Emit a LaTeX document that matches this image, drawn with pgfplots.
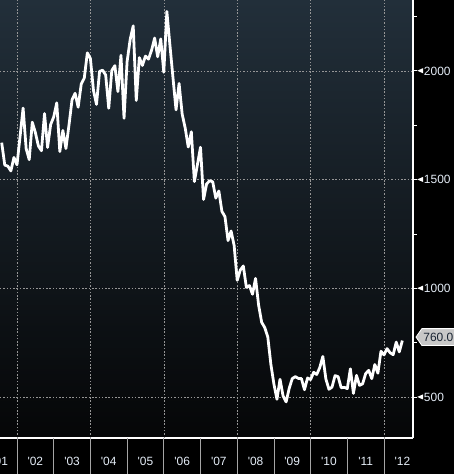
\documentclass[border=0pt]{standalone}
\usepackage{fontspec}
\setmainfont{Liberation Sans}
\newfontfamily\lab{Liberation Sans}
\usepackage{pgfplots}
\pgfplotsset{compat=1.18}
\usepackage{pgfplotstable}
\usetikzlibrary{shapes.symbols}
\definecolor{bgtop}{RGB}{34,47,58}
\definecolor{bgbot}{RGB}{5,6,7}
\definecolor{lblc}{RGB}{228,236,246}
\definecolor{gridc}{RGB}{150,150,150}
\definecolor{tickg}{RGB}{165,165,165}
\definecolor{callfill}{RGB}{200,200,200}
\definecolor{calltext}{RGB}{25,35,50}
\newcommand{\labfont}{\lab\fontsize{12}{13}\selectfont}

\pgfplotstableread{
year month value
2001 7 1670
2001 8 1567
2001 9 1562
2001 10 1540
2001 11 1602
2001 12 1568
2002 1 1698
2002 2 1829
2002 3 1642
2002 4 1592
2002 5 1764
2002 6 1717
2002 7 1655
2002 8 1633
2002 9 1804
2002 10 1648
2002 11 1753
2002 12 1788
2003 1 1853
2003 2 1629
2003 3 1726
2003 4 1643
2003 5 1751
2003 6 1867
2003 7 1897
2003 8 1833
2003 9 1939
2003 10 1967
2003 11 2083
2003 12 2057
2004 1 1911
2004 2 1846
2004 3 1998
2004 4 2003
2004 5 1981
2004 6 1828
2004 7 2002
2004 8 2024
2004 9 1905
2004 10 2072
2004 11 1782
2004 12 2042
2005 1 2144
2005 2 2207
2005 3 1864
2005 4 2061
2005 5 2025
2005 6 2068
2005 7 2054
2005 8 2095
2005 9 2151
2005 10 2065
2005 11 2147
2005 12 1994
2006 1 2273
2006 2 2119
2006 3 1969
2006 4 1821
2006 5 1942
2006 6 1802
2006 7 1737
2006 8 1650
2006 9 1720
2006 10 1491
2006 11 1570
2006 12 1649
2007 1 1409
2007 2 1480
2007 3 1495
2007 4 1490
2007 5 1415
2007 6 1448
2007 7 1354
2007 8 1330
2007 9 1220
2007 10 1264
2007 11 1197
2007 12 1037
2008 1 1084
2008 2 1103
2008 3 1005
2008 4 1013
2008 5 973
2008 6 1046
2008 7 923
2008 8 844
2008 9 820
2008 10 777
2008 11 652
2008 12 560
2009 1 490
2009 2 582
2009 3 505
2009 4 478
2009 5 540
2009 6 585
2009 7 594
2009 8 586
2009 9 585
2009 10 534
2009 11 588
2009 12 581
2010 1 614
2010 2 604
2010 3 636
2010 4 687
2010 5 583
2010 6 536
2010 7 546
2010 8 599
2010 9 594
2010 10 543
2010 11 545
2010 12 539
2011 1 630
2011 2 517
2011 3 600
2011 4 554
2011 5 561
2011 6 608
2011 7 623
2011 8 585
2011 9 650
2011 10 610
2011 11 711
2011 12 694
2012 1 723
2012 2 704
2012 3 695
2012 4 753
2012 5 708
2012 6 760
}\starts

\begin{document}
\begin{tikzpicture}
\fill[black] (0,0) rectangle (454bp,474bp);
\begin{axis}[
  at={(0bp,36bp)}, anchor=south west,
  width=413bp, height=438bp, scale only axis,
  xmin=2001.537, xmax=2012.79, ymin=312, ymax=2326,
  axis background/.style={top color=bgtop, bottom color=bgbot},
  axis x line*=bottom, axis y line*=right,
  axis line style={white, line width=1.2pt},
  tick align=outside,
  major tick length=4bp, minor tick length=4bp,
  tick style={white, line width=0.9pt},
  every tick label/.append style={font=\labfont},
  tick label style={font=\labfont, lblc},
  xtick={2001.54,2002.5,2003.5,2004.5,2005.5,2006.5,2007.5,2008.5,2009.5,2010.5,2011.5,2012.5},
  xticklabels={'01,'02,'03,'04,'05,'06,'07,'08,'09,'10,'11,'12},
  major x tick style={draw=none},
  extra x ticks={2002,2003,2004,2005,2006,2007,2008,2009,2010,2011,2012},
  extra x tick labels={},
  extra x tick style={major tick length=36bp, major x tick style={draw=tickg, line width=0.8pt}},
  ytick={500,1000,1500,2000},
  minor ytick={750,1250,1750,2250},
  ymajorgrids=true,
  grid style={gridc, dash pattern=on 1.5pt off 1.8pt, line width=0.6pt},
  /pgf/number format/assume math mode=true,
  /pgf/number format/set thousands separator={},
  yticklabel={\tikz[baseline={(0,-4.3bp)}]{\fill[white] (0,0)--(6bp,2.6bp)--(6bp,-2.6bp)--cycle;}\hspace{0.8bp}\pgfmathprintnumber{\tick}},
  yticklabel style={anchor=west, inner xsep=0pt, xshift=0bp},
  xticklabel style={yshift=-11.5bp},
]
\pgfplotsinvokeforeach{2002,2004,2006,2008,2010,2012}{
  \draw[gridc, dash pattern=on 1.5pt off 1.8pt, line width=0.6pt] (axis cs:#1,312) -- (axis cs:#1,2326);
}
\addplot[white, line width=2.8pt, line join=round, mark=none]
  table[x expr=\thisrow{year}+\thisrow{month}/12, y=value]{\starts};
\coordinate (lab) at (axis cs:2012.79,760);
\end{axis}
\node[signal, signal to=west, signal pointer angle=110, fill=callfill, draw=white, line width=0.8pt,
  text=calltext, font=\labfont,
  inner xsep=1.5bp, inner ysep=4.2bp, anchor=west] at ([xshift=2.5bp, yshift=3.5bp]lab) {760.0};
\pgfresetboundingbox
\useasboundingbox (0,0) rectangle (454bp,474bp);
\end{tikzpicture}
\end{document}
